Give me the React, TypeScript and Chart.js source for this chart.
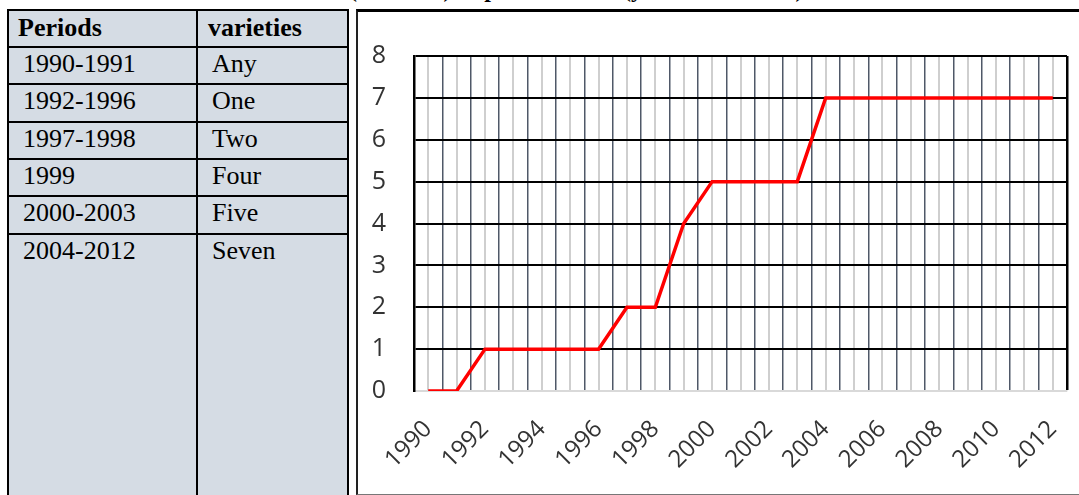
import React, { useEffect, useRef } from "react";
import { Chart, registerables } from "chart.js";

Chart.register(...registerables);

// ---- data ----
const tableHeaders = ["Periods", "varieties"];
const periods = ["1990-1991", "1992-1996", "1997-1998", "1999", "2000-2003", "2004-2012"];
const varieties = ["Any", "One", "Two", "Four", "Five", "Seven"];

const years = [
  "1990", "1991", "1992", "1993", "1994", "1995", "1996", "1997", "1998", "1999", "2000", "2001",
  "2002", "2003", "2004", "2005", "2006", "2007", "2008", "2009", "2010", "2011", "2012",
];
const varietyCounts = [0, 0, 1, 1, 1, 1, 1, 2, 2, 4, 5, 5, 5, 5, 7, 7, 7, 7, 7, 7, 7, 7, 7];
const yTickMin = 0;
const yTickMax = 8;
const titleFragment = "(varieties) implemented in (years 1990-2012)";

const serif = "'Liberation Serif', 'Times New Roman', serif";
const tableBg = "#d5dce4";

const centerLines = {
  id: "centerLines",
  beforeDraw(chart: any) {
    const x = chart.scales.x;
    const area = chart.chartArea;
    const ctx = chart.ctx;
    ctx.save();
    ctx.strokeStyle = "#cfcfcf";
    ctx.lineWidth = 2;
    for (let i = 0; i < chart.data.labels.length; i++) {
      const px = Math.round(x.getPixelForValue(i));
      ctx.beginPath();
      ctx.moveTo(px, area.top);
      ctx.lineTo(px, area.bottom);
      ctx.stroke();
    }
    ctx.restore();
  },
};

function LineChart() {
  const ref = useRef<HTMLCanvasElement | null>(null);
  useEffect(() => {
    if (!ref.current) return;
    const chart = new Chart(ref.current, {
      type: "line",
      data: {
        labels: years,
        datasets: [
          {
            data: varietyCounts,
            borderColor: "#ff0000",
            borderWidth: 3.5,
            pointRadius: 0,
            tension: 0,
            fill: false,
          },
        ],
      },
      options: {
        responsive: false,
        animation: false,
        events: [],
        layout: { padding: { top: 42, right: 12, left: 0, bottom: 0 } },
        plugins: { legend: { display: false }, tooltip: { enabled: false }, title: { display: false } },
        scales: {
          x: {
            type: "category",
            offset: true,
            grid: {
              offset: true,
              drawTicks: false,
              color: (c: any) => (c.index === undefined ? "#000000" : "#4f5868"),
              lineWidth: (c: any) => (c.index === undefined ? 2.5 : 1.5),
            },
            border: { color: "#d9d9d9", width: 1.5 },
            ticks: {
              autoSkip: false,
              minRotation: 45,
              maxRotation: 45,
              padding: 24,
              color: "#333333",
              font: { family: "'Open Sans', sans-serif", size: 24 },
              callback: (_v: any, i: number) => (i % 2 === 0 ? years[i] : ""),
            },
            afterFit: (s: any) => {
              s.height = 102;
              s.paddingLeft = 0;
              s.paddingRight = 0;
            },
          },
          y: {
            min: yTickMin,
            max: yTickMax,
            grid: {
              drawTicks: false,
              color: (c: any) => (c.tick && c.tick.value === 0 ? "#d9d9d9" : "#000000"),
              lineWidth: 2,
            },
            border: { color: "#000000", width: 2.5 },
            ticks: {
              stepSize: 1,
              padding: 28,
              color: "#333333",
              font: { family: "'Open Sans', sans-serif", size: 25 },
            },
            afterFit: (s: any) => {
              s.width = 55;
            },
          },
        },
      },
      plugins: [centerLines],
    } as any);
    return () => chart.destroy();
  }, []);
  return (
    <canvas
      ref={ref}
      width={720}
      height={480}
      style={{ position: "absolute", left: 359, top: 13, width: 720, height: 480 }}
    />
  );
}

export default function App() {
  const rowH = 37.3;
  const firstLine = 46;
  const textStyle: React.CSSProperties = {
    position: "absolute",
    fontFamily: serif,
    fontSize: 26,
    lineHeight: "26px",
    color: "#000",
    whiteSpace: "nowrap",
  };
  return (
    <div
      style={{
        position: "fixed",
        left: 0,
        top: 0,
        width: 1079,
        height: 495,
        overflow: "hidden",
        background: "#ffffff",
      }}
    >
      {/* clipped title */}
      <div
        style={{
          ...textStyle,
          left: 349,
          top: -23,
          fontWeight: "bold",
          fontSize: 24,
          lineHeight: "24px",
        }}
      >
        {titleFragment}
      </div>

      {/* table */}
      <div
        style={{
          position: "absolute",
          left: 7,
          top: 9,
          width: 338,
          height: 500,
          background: tableBg,
          borderLeft: "2px solid #000",
          borderTop: "2px solid #000",
          borderRight: "2px solid #000",
        }}
      />
      <div style={{ position: "absolute", left: 196, top: 9, width: 2, height: 500, background: "#000" }} />
      {periods.map((_, i) => (
        <div
          key={"l" + i}
          style={{
            position: "absolute",
            left: 7,
            top: Math.round(firstLine + i * rowH),
            width: 342,
            height: 2,
            background: "#000",
          }}
        />
      ))}
      <div style={{ ...textStyle, left: 18, top: 15, fontWeight: "bold" }}>{tableHeaders[0]}</div>
      <div style={{ ...textStyle, left: 208, top: 15, fontWeight: "bold" }}>{tableHeaders[1]}</div>
      {periods.map((p, i) => (
        <div key={"p" + i} style={{ ...textStyle, left: 23, top: 51 + i * rowH }}>
          {p}
        </div>
      ))}
      {varieties.map((v, i) => (
        <div key={"v" + i} style={{ ...textStyle, left: 212, top: 51 + i * rowH }}>
          {v}
        </div>
      ))}

      {/* chart frame */}
      <div
        style={{
          position: "absolute",
          left: 356,
          top: 9,
          width: 740,
          height: 482,
          borderLeft: "2.5px solid #222",
          borderTop: "3.5px solid #000",
          borderBottom: "1.5px solid #777",
        }}
      />
      <LineChart />
    </div>
  );
}
